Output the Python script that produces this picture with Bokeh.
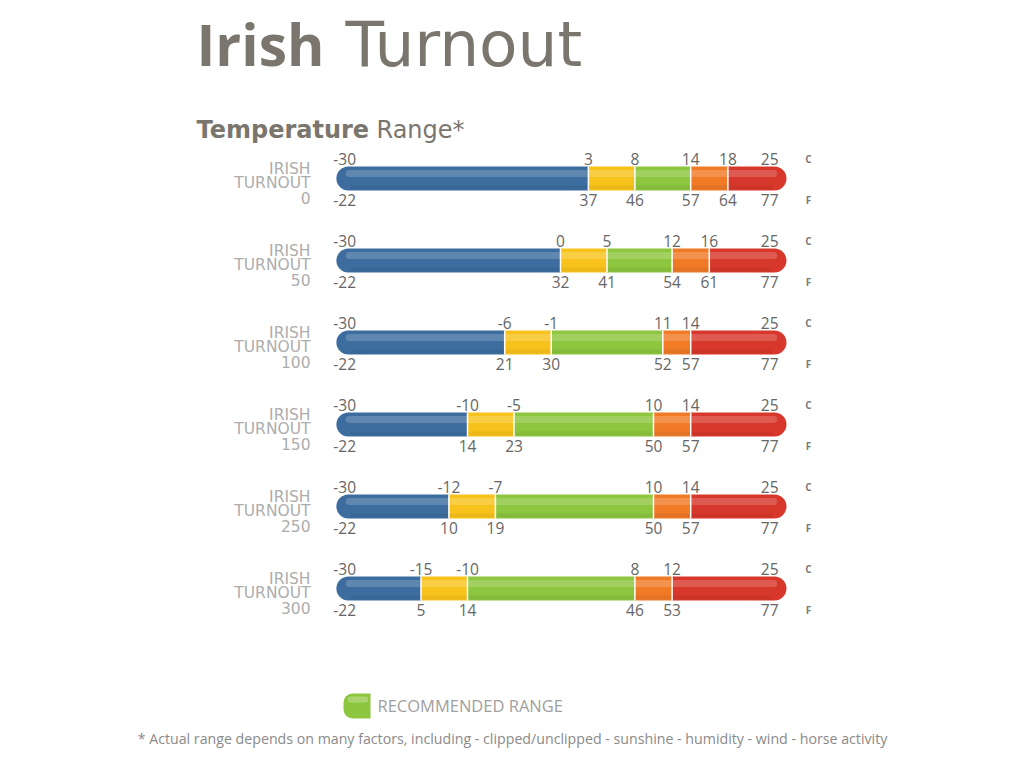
import numpy as np
from bokeh.plotting import figure
from bokeh.models import Range1d
from bokeh.core.properties import value
from bokeh.embed import file_html
from bokeh.resources import INLINE

# ---------------- data ----------------
rows = ["0", "50", "100", "150", "250", "300"]
c_min, c_max = -30, 25
f_min, f_max = -22, 77
c_bounds = [
    [3, 8, 14, 18],
    [0, 5, 12, 16],
    [-6, -1, 11, 14],
    [-10, -5, 10, 14],
    [-12, -7, 10, 14],
    [-15, -10, 8, 12],
]
f_bounds = [
    [37, 46, 57, 64],
    [32, 41, 54, 61],
    [21, 30, 52, 57],
    [14, 23, 50, 57],
    [10, 19, 50, 57],
    [5, 14, 46, 53],
]
seg_colors = ["#3d6d9e", "#f8c21c", "#8dc63f", "#f07a26", "#d8372b"]
legend_label = "RECOMMENDED RANGE"
title_bold, title_light = "Irish", "Turnout"
sub_bold, sub_light = "Temperature", "Range*"
footnote = ("* Actual range depends on many factors, including - clipped/unclipped"
            " - sunshine - humidity - wind - horse activity")

# ---------------- layout / style ----------------
W, H = 1008, 752
TRACK_LO, TRACK_HI = -24.1, 24.3      # visible track limits in deg C
ROW_Y0, ROW_GAP = 178, 82             # row centre positions (px from top)
BAR_H = 24
FONT = "Open Sans"
WIDE = "DejaVu Sans"
NUM_COLOR = "#666666"
LABEL_COLOR = "#adadad"
TITLE_COLOR = "#7a766e"
NUM_SIZE = "15.5px"

p = figure(width=W, height=H, output_backend="svg", toolbar_location=None,
           x_range=Range1d(-60.215, 48.172), y_range=Range1d(752, 0),
           min_border=0, x_axis_location=None, y_axis_location=None)
p.extra_x_ranges = {"px": Range1d(0, 1008)}
p.grid.visible = False
p.outline_line_color = None
p.background_fill_color = "white"
p.border_fill_color = "white"

ys = np.array([ROW_Y0 + ROW_GAP * i for i in range(len(rows))], dtype=float)


def num_text(x, y, txt, align, xoff=0):
    p.text(x=x, y=y, text=txt, x_offset=xoff, text_align=align, text_baseline="middle",
           text_font=value(FONT), text_font_size=NUM_SIZE, text_color=NUM_COLOR)


for i, y in enumerate(ys):
    edges = np.clip(np.array([c_min] + c_bounds[i] + [c_max], dtype=float), TRACK_LO, TRACK_HI)
    lefts, rights = edges[:-1], edges[1:]
    p.hbar(y=y, height=BAR_H, left=lefts[0], right=rights[0], fill_color=seg_colors[0],
           line_color=None, border_radius=(12, 0, 0, 12))
    for k in (1, 2, 3):
        p.hbar(y=y, height=BAR_H, left=lefts[k], right=rights[k], fill_color=seg_colors[k],
               line_color=None)
    p.hbar(y=y, height=BAR_H, left=lefts[4], right=rights[4], fill_color=seg_colors[4],
           line_color=None, border_radius=(0, 12, 12, 0))
    # gloss
    p.hbar(y=y - 5, height=7, left=TRACK_LO + 1.0, right=TRACK_HI - 1.0,
           fill_color="white", fill_alpha=0.18, line_color=None, border_radius=4)
    p.hbar(y=y + 9, height=4, left=TRACK_LO + 1.5, right=TRACK_HI - 1.5,
           fill_color="black", fill_alpha=0.05, line_color=None, border_radius=2)
    b = np.array(c_bounds[i], dtype=float)
    p.segment(x0=b, y0=[y - BAR_H / 2] * 4, x1=b, y1=[y + BAR_H / 2] * 4,
              line_color="white", line_width=1.5)
    # C labels
    num_text(b, [y - 20] * 4, [str(v) for v in c_bounds[i]], "center")
    num_text([TRACK_LO], [y - 20], [str(c_min)], "left", -3)
    num_text([TRACK_HI], [y - 20], [str(c_max)], "right", -8)
    # F labels
    num_text(b, [y + 21] * 4, [str(v) for v in f_bounds[i]], "center")
    num_text([TRACK_LO], [y + 21], [str(f_min)], "left", -3)
    num_text([TRACK_HI], [y + 21], [str(f_max)], "right", -8)
    # unit letters
    p.text(x=[808, 808], y=[y - 20, y + 21], text=["C", "F"], x_range_name="px",
           text_align="center", text_baseline="middle", text_font=value(FONT),
           text_font_size="10px", text_font_style="bold", text_color="#7a7a7a")
    # row labels
    p.text(x=[310, 310, 310], y=[y - 10, y + 4.5, y + 19], text=["IRISH", "TURNOUT", rows[i]],
           x_range_name="px", text_align="right", text_baseline="middle",
           text_font=value(WIDE), text_font_size="15.5px", text_color=LABEL_COLOR)

# titles (baseline-corrected)
p.text(x=[196], y=[43], text=[title_bold], x_range_name="px", text_baseline="alphabetic",
       text_font=value(FONT), text_font_size="57px", text_font_style="bold",
       text_color=TITLE_COLOR)
p.text(x=[345], y=[44], text=[title_light], x_range_name="px", text_baseline="alphabetic",
       text_font=value(WIDE), text_font_size="63px", text_color=TITLE_COLOR)
p.text(x=[196], y=[129], text=[sub_bold], x_range_name="px", text_baseline="alphabetic",
       text_font=value(WIDE), text_font_size="24px", text_font_style="bold",
       text_color=TITLE_COLOR)
p.text(x=[376], y=[129], text=[sub_light], x_range_name="px", text_baseline="alphabetic",
       text_font=value(WIDE), text_font_size="24px", text_color=TITLE_COLOR)

# legend
p.hbar(y=[705.5], height=25, left=[343], right=[370], x_range_name="px",
       fill_color=seg_colors[2], line_color=None, border_radius=(9, 0, 0, 9))
p.hbar(y=[699], height=6, left=[347], right=[368], x_range_name="px",
       fill_color="white", fill_alpha=0.25, line_color=None, border_radius=3)
p.text(x=[377], y=[705], text=[legend_label], x_range_name="px", text_baseline="middle",
       text_font=value(FONT), text_font_size="16.5px", text_color="#a0a0a0")

# footnote
p.text(x=[512], y=[738], text=[footnote], x_range_name="px", text_align="center",
       text_baseline="middle", text_font=value(FONT), text_font_size="14.2px",
       text_color="#8a8a8a")

open("out.html", "w").write(file_html(p, INLINE))
